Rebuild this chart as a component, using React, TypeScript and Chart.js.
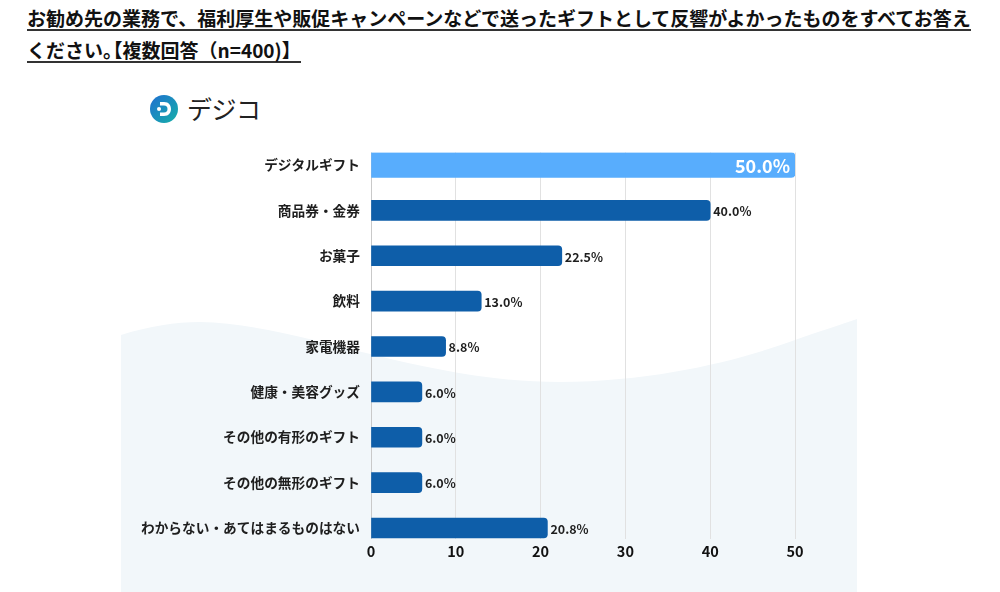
import React, { useEffect, useRef } from "react";
import { Chart, registerables } from "chart.js";

Chart.register(...registerables);

const TITLE_LINE_1 =
  "お勧め先の業務で、福利厚生や販促キャンペーンなどで送ったギフトとして反響がよかったものをすべてお答え";
const TITLE_LINE_2A = "ください";
const TITLE_LINE_2B = "。";
const TITLE_LINE_2C = "【複数回答（n=400)】";

const categories = [
  "デジタルギフト",
  "商品券・金券",
  "お菓子",
  "飲料",
  "家電機器",
  "健康・美容グッズ",
  "その他の有形のギフト",
  "その他の無形のギフト",
  "わからない・あてはまるものはない",
];
const values = [50.0, 40.0, 22.5, 13.0, 8.8, 6.0, 6.0, 6.0, 20.8];
const highlightIndex = 0;
const xTicks = [0, 10, 20, 30, 40, 50];

const FONT = "'Noto Sans CJK JP', 'Noto Sans', sans-serif";

const labelPlugin = {
  id: "barLabels",
  afterDatasetsDraw(chart: any) {
    const ctx = chart.ctx;
    chart.data.datasets.forEach((ds: any, di: number) => {
      const meta = chart.getDatasetMeta(di);
      meta.data.forEach((bar: any, i: number) => {
        const raw = ds.data[i];
        if (!raw) return;
        const text = raw.x.toFixed(1) + "%";
        ctx.save();
        ctx.textBaseline = "middle";
        if (di === 0) {
          ctx.fillStyle = "#ffffff";
          ctx.font = `bold 18px ${FONT}`;
          ctx.textAlign = "right";
          ctx.fillText(text, bar.x - 5, bar.y + 1);
        } else {
          ctx.fillStyle = "#1e1e1e";
          ctx.font = `bold 12.5px ${FONT}`;
          ctx.textAlign = "left";
          ctx.fillText(text, bar.x + 3, bar.y + 1);
        }
        ctx.restore();
      });
    });
  },
};

export default function App() {
  const canvasRef = useRef<HTMLCanvasElement | null>(null);

  useEffect(() => {
    if (!canvasRef.current) return;
    const highlightData = values
      .map((v, i) => ({ x: v, y: i }))
      .filter((_, i) => i === highlightIndex);
    const restData = values
      .map((v, i) => ({ x: v, y: i }))
      .filter((_, i) => i !== highlightIndex);

    const chart = new Chart(canvasRef.current, {
      type: "bar",
      data: {
        datasets: [
          {
            data: highlightData,
            backgroundColor: "#58adfd",
            borderRadius: 4,
            borderSkipped: "start",
            barThickness: 25,
            grouped: false,
          } as any,
          {
            data: restData,
            backgroundColor: "#0e5ea9",
            borderRadius: 4,
            borderSkipped: "start",
            barThickness: 20,
            grouped: false,
          } as any,
        ],
      },
      options: {
        indexAxis: "y",
        animation: false,
        responsive: true,
        maintainAspectRatio: false,
        layout: { padding: { top: 152.5, right: 205, bottom: 0, left: 0 } },
        plugins: {
          legend: { display: false },
          tooltip: { enabled: false },
        },
        scales: {
          x: {
            type: "linear",
            min: 0,
            max: 50,
            afterBuildTicks: (scale: any) => {
              scale.ticks = xTicks.map((v) => ({ value: v }));
            },
            afterFit: (scale: any) => {
              scale.height = 53;
            },
            grid: {
              color: (c: any) => (c.tick && c.tick.value === 0 ? "#c9c9c9" : "#e1e1e1"),
              lineWidth: 1,
              drawTicks: false,
            },
            border: { display: false },
            ticks: {
              padding: 4,
              color: "#111111",
              font: { family: FONT, size: 14.5, weight: "bold" },
            },
          },
          y: {
            type: "linear",
            reverse: true,
            offset: false,
            min: -0.2755,
            max: 8.242,
            afterBuildTicks: (scale: any) => {
              scale.ticks = categories.map((_, i) => ({ value: i }));
            },
            afterFit: (scale: any) => {
              scale.width = 371;
            },
            grid: { display: false, drawTicks: false, offset: false },
            border: { display: false },
            ticks: {
              padding: 11,
              color: "#1e1e1e",
              font: { family: FONT, size: 13.7, weight: "bold" },
              callback: (v: any) => categories[Math.round(Number(v))] ?? "",
            },
          },
        },
      } as any,
      plugins: [labelPlugin],
    });
    return () => chart.destroy();
  }, []);

  const titleStyle: React.CSSProperties = {
    position: "absolute",
    left: 27,
    fontSize: 19,
    lineHeight: "22px",
    fontWeight: "bold",
    color: "#111",
    whiteSpace: "nowrap",
    borderBottom: "2px solid #333",
  };

  return (
    <div
      style={{
        position: "fixed",
        left: 0,
        top: 0,
        width: 1000,
        height: 592,
        background: "#ffffff",
        overflow: "hidden",
        fontFamily: FONT,
      }}
    >
      <svg
        width={1000}
        height={592}
        style={{ position: "absolute", left: 0, top: 0 }}
      >
        <path
          d="M121,335 C150,326 175,322 200,322 C300,324 420,382 560,382 C660,381 740,360 795,340 C820,331 840,325 857,319 L857,592 L121,592 Z"
          fill="#f2f7fa"
        />
      </svg>

      <div style={{ ...titleStyle, top: 7 }}>{TITLE_LINE_1}</div>
      <div style={{ ...titleStyle, top: 39 }}>
        {TITLE_LINE_2A}
        <span style={{ letterSpacing: "-9px" }}>{TITLE_LINE_2B}</span>
        {TITLE_LINE_2C}
      </div>

      <svg
        width={30}
        height={30}
        style={{ position: "absolute", left: 149, top: 94 }}
      >
        <defs>
          <linearGradient id="lg" x1="0" y1="0" x2="1" y2="1">
            <stop offset="0" stopColor="#1f6fd1" />
            <stop offset="1" stopColor="#16b0a8" />
          </linearGradient>
        </defs>
        <circle cx={15} cy={15} r={14} fill="url(#lg)" />
        <path
          d="M11,8 L15,8 C20,8 22,11.5 22,15 C22,18.5 20,22 15,22 L11,22 L11,18.5 L15,18.5 C17.5,18.5 18.5,17 18.5,15 C18.5,13 17.5,11.5 15,11.5 L11,11.5 Z"
          fill="#ffffff"
        />
        <circle cx={10} cy={15} r={2} fill="#ffffff" />
      </svg>
      <div
        style={{
          position: "absolute",
          left: 187,
          top: 92,
          fontSize: 25,
          lineHeight: "32px",
          fontWeight: 400,
          color: "#222",
          letterSpacing: "-0.5px",
          whiteSpace: "nowrap",
        }}
      >
        デジコ
      </div>

      <div
        style={{ position: "absolute", left: 0, top: 0, width: 1000, height: 592 }}
      >
        <canvas ref={canvasRef} />
      </div>
    </div>
  );
}
